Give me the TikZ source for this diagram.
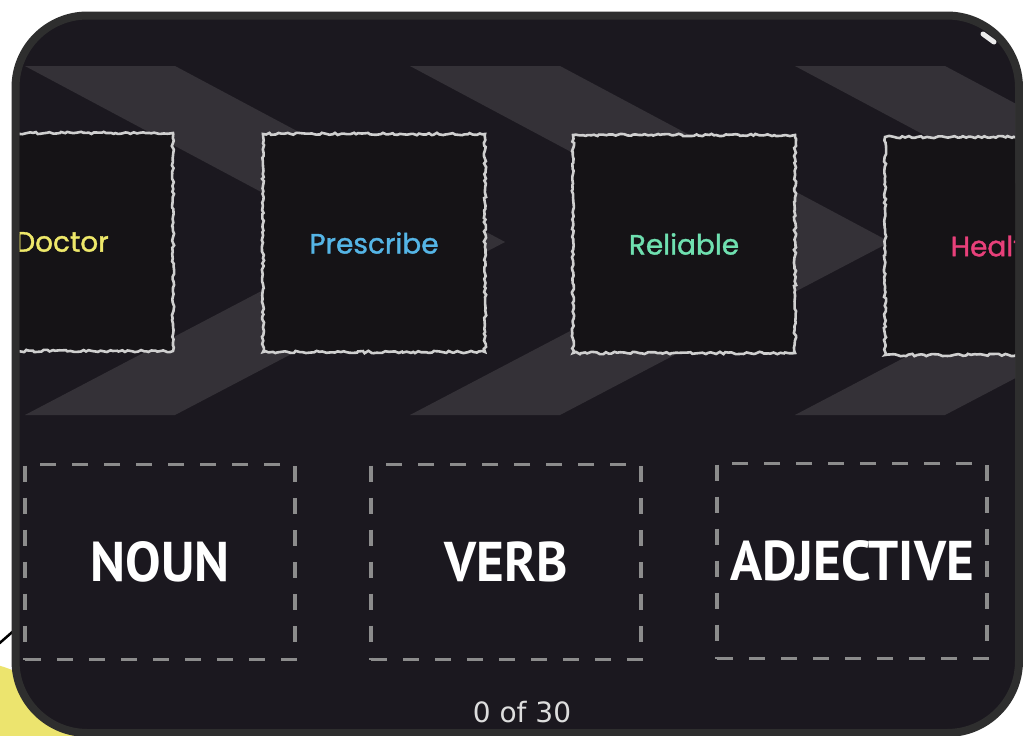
\documentclass[tikz,border=0pt]{standalone}
\usepackage{fontspec}
\usepackage{tikz}
\usetikzlibrary{decorations.pathmorphing}
\newfontfamily\wordfont[FakeBold=1.3]{Poppins}
\newfontfamily\slotfont[FakeStretch=0.95]{PT Sans Bold}
\newfontfamily\countfont{DejaVu Sans}
\definecolor{board}{HTML}{1B181F}
\definecolor{framegray}{HTML}{2E2E2E}
\definecolor{cardfill}{HTML}{151316}
\definecolor{chalk}{HTML}{CFCFCF}
\definecolor{dashgray}{HTML}{8C8C8C}
\definecolor{blobyellow}{HTML}{ECE46E}
\definecolor{doctorcol}{HTML}{EEE86A}
\definecolor{prescribecol}{HTML}{55B5E6}
\definecolor{reliablecol}{HTML}{6FE0B0}
\definecolor{healthcol}{HTML}{E8407A}
\tikzset{
  card/.style={draw=chalk, fill=cardfill, line width=2.6pt,
    minimum width=222pt, minimum height=218pt,
    decorate, decoration={random steps, segment length=3pt, amplitude=1.2pt},
    font=\wordfont\fontsize{28}{28}\selectfont},
  slot/.style={draw=dashgray, line width=3.5pt, dash pattern=on 16pt off 16pt,
    minimum width=270pt, minimum height=195pt, text=white,
    font=\slotfont\fontsize{56}{56}\selectfont},
  chevron/.style={fill=chalk, fill opacity=0.14}
}
\begin{document}
\begin{tikzpicture}[x=1pt,y=-1pt]
\useasboundingbox (0,0) rectangle (1023,736);
\fill[white] (0,0) rectangle (1023,736);
\fill[blobyellow] (-40,800) circle (140);
\draw[line width=2.5pt, black] (-6,648) -- (18,627);
\draw[line width=8pt, draw=framegray, fill=board, rounded corners=72pt] (15.5,15.5) rectangle (1019,733);
\begin{scope}
\clip[rounded corners=68pt] (19.5,19.5) rectangle (1015,729);
\fill[chevron] (175,66) -- (505,242) -- (175,415) -- (25,415) -- (355,242) -- (25,66) -- cycle;
\fill[chevron] (560,66) -- (890,242) -- (560,415) -- (410,415) -- (740,242) -- (410,66) -- cycle;
\fill[chevron] (945,66) -- (1275,242) -- (945,415) -- (795,415) -- (1125,242) -- (795,66) -- cycle;
\node[card, text=doctorcol] (doctor) at (62,242) {Doctor};
\node[card, text=prescribecol] (prescribe) at (374,243) {Prescribe};
\node[card, text=reliablecol] (reliable) at (684,244) {Reliable};
\node[card, text=healthcol] (health) at (996,246) {Health};
\node[slot] (noun) at (160,562) {NOUN};
\node[slot] (verb) at (506,562) {VERB};
\node[slot] (adjective) at (852,561) {ADJECTIVE};
\node[text=chalk!70!white, font=\countfont\fontsize{28}{28}\selectfont] (counter) at (522,712) {0 of 30};
\draw[line width=5pt, line cap=round, white!85!gray] (983,34) -- (994,42);
\end{scope}
\end{tikzpicture}
\end{document}
